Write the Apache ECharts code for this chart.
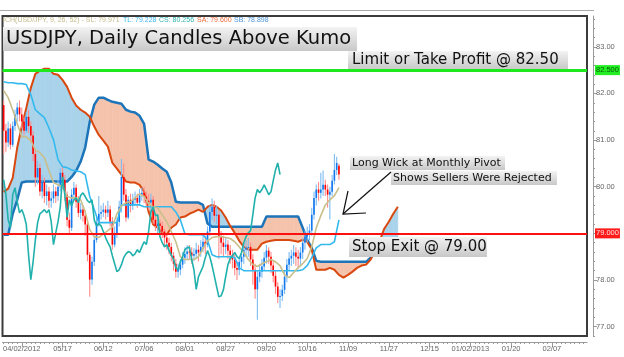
<!DOCTYPE html>
<html><head><meta charset="utf-8">
<script src="https://cdn.jsdelivr.net/npm/echarts@6/dist/echarts.min.js"></script>
<style>html,body{margin:0;padding:0;background:#fff}#c{width:624px;height:357px}</style>
</head><body><div id="c"></div>
<script>
// ---------- data ----------
const slotCount = 258;
const tickIdx = [8,26,44,62,80,98,116,134,152,170,188,206,224,242];
const tickLabels = ['04/02/2012','05/17','06/12','07/06','08/01','08/27','09/20','10/16','11/09','11/27','12/15','01/02/2013','01/20','02/07'];
const yTicks = [77,78,79,80,81,82,83];

const candleOpen = [81.75,81.20,80.95,81.25,80.90,81.30,81.55,81.70,81.55,81.40,
81.20,81.50,81.30,81.10,80.70,80.20,80.40,79.90,80.10,79.80,
79.90,79.70,79.75,79.90,79.80,80.00,80.30,80.15,79.83,79.29,
79.12,79.83,79.98,79.68,79.44,79.51,79.38,79.19,78.54,78.01,
78.39,78.86,79.23,79.42,79.46,79.51,79.44,79.51,79.25,78.76,
79.01,79.25,79.57,80.21,79.83,79.34,79.72,79.59,79.72,79.76,
79.66,79.81,79.87,79.79,79.70,79.66,79.72,79.29,79.16,79.21,
79.16,79.04,78.91,78.80,78.71,78.52,78.35,78.18,78.22,78.33,
78.48,78.56,78.61,78.59,78.52,78.56,78.65,78.59,78.71,78.82,
78.76,79.04,79.46,79.57,79.38,79.40,78.93,78.80,78.71,78.76,
78.63,78.54,78.44,78.26,78.22,78.39,78.50,78.65,78.69,78.71,
78.44,78.22,77.80,78.07,78.18,78.29,78.48,78.63,78.50,78.31,
78.09,77.86,77.64,77.66,77.79,78.07,78.33,78.46,78.52,78.59,
78.50,78.46,78.59,78.80,78.93,79.01,79.06,79.40,79.76,79.94,
79.87,79.94,80.04,79.94,79.83,79.89,80.13,80.36,80.45];
const candleClose = [81.20,80.95,81.25,80.90,81.30,81.55,81.70,81.55,81.40,81.20,
81.50,81.30,81.10,80.70,80.20,80.40,79.90,80.10,79.80,79.90,
79.70,79.75,79.90,79.80,80.00,80.30,80.15,79.83,79.29,79.12,
79.83,79.98,79.68,79.44,79.51,79.38,79.19,78.54,78.01,78.39,
78.86,79.23,79.42,79.46,79.51,79.44,79.51,79.25,78.76,79.01,
79.25,79.57,80.21,79.83,79.34,79.72,79.59,79.72,79.76,79.66,
79.81,79.87,79.79,79.70,79.66,79.72,79.29,79.16,79.21,79.16,
79.04,78.91,78.80,78.71,78.52,78.35,78.18,78.22,78.33,78.48,
78.56,78.61,78.59,78.52,78.56,78.65,78.59,78.71,78.82,78.76,
79.04,79.46,79.57,79.38,79.40,78.93,78.80,78.71,78.76,78.63,
78.54,78.44,78.26,78.22,78.39,78.50,78.65,78.69,78.71,78.44,
78.22,77.80,78.07,78.18,78.29,78.48,78.63,78.50,78.31,78.09,
77.86,77.64,77.66,77.79,78.07,78.33,78.46,78.52,78.59,78.50,
78.46,78.59,78.80,78.93,79.01,79.06,79.40,79.76,79.94,79.87,
79.94,80.04,79.94,79.83,79.89,80.13,80.36,80.51,80.26];
const candleLow = [80.70,80.75,80.85,80.80,80.85,81.20,81.40,81.40,81.25,81.10,
81.15,81.15,80.95,80.55,80.00,80.05,79.80,79.75,79.65,79.60,
79.55,79.55,79.65,79.65,79.70,79.90,79.95,79.70,79.15,78.98,
79.05,79.70,79.55,79.35,79.30,79.25,78.95,78.40,77.64,77.90,
78.30,78.80,79.15,79.30,79.35,79.30,79.35,79.15,78.65,78.70,
78.90,79.15,79.45,79.70,79.25,79.30,79.45,79.50,79.60,79.55,
79.60,79.70,79.65,79.55,79.50,79.45,79.20,79.05,79.00,79.00,
78.90,78.75,78.65,78.55,78.40,78.20,78.05,78.05,78.10,78.25,
78.35,78.45,78.45,78.35,78.40,78.45,78.40,78.50,78.60,78.55,
78.70,78.95,79.30,79.25,79.20,78.45,78.55,78.50,78.55,78.45,
78.35,78.25,78.10,78.00,78.10,78.25,78.35,78.50,78.50,78.30,
77.90,77.60,77.15,77.95,78.05,78.20,78.35,78.35,78.15,77.95,
77.70,77.50,77.40,77.55,77.70,77.95,78.20,78.30,78.35,78.30,
78.25,78.30,78.45,78.65,78.80,78.85,78.95,79.30,79.60,79.70,
79.75,79.80,79.80,79.55,79.30,79.80,80.05,80.25,80.15];
const candleHigh = [81.85,81.35,81.40,81.35,81.40,81.65,81.80,81.85,81.70,81.50,
81.60,81.65,81.40,81.20,80.80,80.55,80.50,80.25,80.20,80.05,
80.00,79.90,80.05,80.00,80.15,80.40,80.45,80.25,79.90,79.45,
79.95,80.10,80.05,79.80,79.65,79.60,79.50,79.30,78.60,78.50,
78.95,79.35,79.80,79.60,79.65,79.60,79.70,79.60,79.35,79.15,
79.35,79.70,80.60,80.50,79.95,79.80,79.85,79.85,79.90,79.85,
79.95,79.98,80.00,79.90,79.85,79.85,79.80,79.40,79.35,79.30,
79.25,79.10,79.00,78.90,78.80,78.60,78.45,78.35,78.45,78.60,
78.70,78.75,78.75,78.70,78.68,78.80,78.75,78.85,79.00,78.95,
79.15,79.60,79.75,79.70,79.60,79.50,79.05,78.95,78.90,78.85,
78.75,78.65,78.55,78.40,78.50,78.65,78.80,78.85,78.90,78.80,
78.55,78.35,78.20,78.35,78.45,78.60,78.75,78.70,78.60,78.40,
78.20,77.95,77.80,77.90,78.20,78.45,78.60,78.65,78.75,78.70,
78.65,78.70,78.90,79.05,79.15,79.20,79.55,79.90,80.05,80.10,
80.30,80.35,80.15,80.05,80.00,80.25,80.70,80.64,80.50];

// Ichimoku lines, one value every 2 bars (bar index 0,2,4,...)
const senkouA = [79.89,79.96,80.19,80.84,81.29,81.69,82.12,82.42,82.49,82.53,
82.53,82.42,82.40,82.29,82.14,81.91,81.74,81.65,81.59,81.50,
81.29,81.11,80.99,80.86,80.51,80.39,80.26,80.11,80.09,80.09,
80.04,79.89,79.46,79.19,79.12,79.01,78.97,79.12,79.19,79.34,
79.36,79.42,79.46,79.51,79.46,79.57,79.61,79.57,79.49,79.34,
79.16,79.01,78.84,78.71,78.65,78.65,78.65,78.78,78.82,78.84,
78.86,78.86,78.86,78.86,78.84,78.82,78.86,78.82,78.65,78.22,
78.22,78.22,78.26,78.22,78.11,78.05,78.11,78.18,78.26,78.31,
78.33,78.44,78.63,78.84,79.10,79.25,79.42,79.57];
const senkouB = [78.97,78.97,79.42,79.72,80.09,80.11,80.11,80.11,80.11,80.11,
80.11,80.11,80.11,80.11,80.11,80.21,80.34,80.54,80.84,81.39,
81.76,81.91,81.91,81.86,81.82,81.80,81.78,81.65,81.61,81.59,
81.52,81.35,80.58,80.54,80.47,80.39,80.32,80.09,79.68,79.66,
79.66,79.66,79.66,79.66,79.61,79.21,79.14,79.14,79.14,79.14,
79.14,79.14,79.14,79.14,79.14,79.14,79.14,79.14,79.36,79.36,
79.36,79.36,79.36,79.36,79.36,79.36,79.12,78.86,78.69,78.41,
78.39,78.39,78.39,78.39,78.39,78.39,78.39,78.39,78.39,78.39,
78.39,78.48,78.61,78.69,78.78,78.84,78.88,78.90];
const turningLine = [82.25,82.23,82.23,82.21,82.21,82.19,81.97,81.65,81.56,81.48,
81.26,81.01,80.58,80.43,80.41,80.36,80.34,80.32,80.26,79.79,
79.51,79.23,79.23,79.23,79.23,79.23,79.61,79.61,79.61,79.61,
79.61,79.57,79.57,79.57,79.57,79.57,79.57,79.57,79.46,79.29,
78.99,78.97,78.97,78.97,78.97,78.86,78.54,78.50,78.50,78.50,
78.50,78.48,78.26,78.20,78.20,78.20,78.20,78.20,78.20,78.20,
78.20,78.20,78.20,78.20,78.20,78.20,78.22,78.31,78.48,78.69,
78.76,78.76,78.76,78.82,79.29];
const standardLine = [82.06,81.91,81.65,81.35,81.07,81.07,80.99,80.79,80.73,80.62,
80.34,80.09,80.04,80.00,79.79,79.76,79.76,79.72,79.46,79.08,
78.93,78.91,78.99,79.06,79.14,79.42,79.59,79.66,79.68,79.76,
79.85,79.79,79.64,79.57,79.55,79.40,79.25,79.04,78.82,78.50,
78.44,78.44,78.44,78.50,78.67,78.84,78.91,78.93,78.93,78.91,
78.89,78.82,78.71,78.59,78.44,78.33,78.29,78.35,78.39,78.44,
78.39,78.31,78.11,78.05,78.16,78.26,78.35,78.46,78.71,79.12,
79.38,79.61,79.72,79.81,79.98];
const laggingShift = 26;
const takeProfit = 82.5, stopExit = 79.0, lastClose = 80.256, lastCloseTagAt = 80.46;

// ---------- build ----------
const categories = Array.from({length: slotCount}, (_, i) => String(i));
const every2 = arr => arr.map((v, n) => [n * 2, v]);
const candleData = candleOpen.map((o, i) => [i, o, candleClose[i], candleLow[i], candleHigh[i]]);
const cloudData = [];
for (let n = 0; n < senkouA.length - 1; n++) {
  cloudData.push([n * 2, senkouA[n], senkouB[n], n * 2 + 2, senkouA[n + 1], senkouB[n + 1]]);
}
const chikou = candleClose.slice(laggingShift).map((c, n) => [n, c]);
const yMinor = [];
for (let v = 768; v <= 836; v += 2) yMinor.push(v / 10);

const UPFILL = '#a9d3ea', DNFILL = '#f5c3ab';
function renderCloud(params, api) {
  const k1 = api.value(0), a1 = api.value(1), b1 = api.value(2);
  const k2 = api.value(3), a2 = api.value(4), b2 = api.value(5);
  const pa1 = api.coord([k1, a1]), pb1 = api.coord([k1, b1]);
  const pa2 = api.coord([k2, a2]), pb2 = api.coord([k2, b2]);
  const d1 = a1 - b1, d2 = a2 - b2;
  const mk = (pts, c) => ({type: 'polygon', shape: {points: pts}, style: {fill: c, stroke: c, lineWidth: 0.6}});
  const ch = [];
  if (d1 * d2 >= 0) {
    ch.push(mk([pa1, pa2, pb2, pb1], (d1 + d2) >= 0 ? UPFILL : DNFILL));
  } else {
    const t = d1 / (d1 - d2);
    const px = [pa1[0] + t * (pa2[0] - pa1[0]), pa1[1] + t * (pa2[1] - pa1[1])];
    ch.push(mk([pa1, px, pb1], d1 > 0 ? UPFILL : DNFILL));
    ch.push(mk([px, pa2, pb2], d2 > 0 ? UPFILL : DNFILL));
  }
  return {type: 'group', children: ch};
}
function renderCandle(params, api) {
  const i = api.value(0), o = api.value(1), c = api.value(2), l = api.value(3), h = api.value(4);
  const pO = api.coord([i, o]), pC = api.coord([i, c]), pL = api.coord([i, l]), pH = api.coord([i, h]);
  const up = c >= o;
  const bw = Math.max(1.5, api.size([1, 0])[0] * 0.72);
  const x = pO[0];
  return {type: 'group', children: [
    {type: 'line', shape: {x1: x, y1: pH[1], x2: x, y2: pL[1]}, style: {stroke: up ? '#7dbcf2' : '#ff8c8c', lineWidth: 1.1}},
    {type: 'rect', shape: {x: x - bw / 2, y: Math.min(pO[1], pC[1]), width: bw, height: Math.max(1, Math.abs(pO[1] - pC[1]))},
      style: {fill: up ? '#1479ee' : '#ff0000'}}
  ]};
}

const boxFill = {type: 'linear', x: 0, y: 0, x2: 0, y2: 1, colorStops: [{offset: 0, color: '#f3f3f3'}, {offset: 1, color: '#c8c8c8'}]};
function tagBox(x, y, w, h, text, size, tx) {
  return [
    {type: 'rect', shape: {x: x, y: y, width: w, height: h}, style: {fill: boxFill}, z: 100},
    {type: 'text', x: tx, y: y + h / 2, style: {text: text, fill: '#111', font: size + 'px "DejaVu Sans"', verticalAlign: 'middle'}, z: 101}
  ];
}
const hdrFont = '7px "Liberation Sans"';
const graphics = [
  {type: 'line', shape: {x1: 0, y1: 10.5, x2: 594, y2: 10.5}, style: {stroke: '#aaa', lineWidth: 1}, z: 100},
  {type: 'text', x: 3, y: 20, style: {text: 'ICH(USD/JPY, 9, 26, 52) - SL: 79.971', fill: '#c4bb8c', font: hdrFont, verticalAlign: 'middle'}, z: 101},
  {type: 'text', x: 123, y: 20, style: {text: 'TL: 79.228', fill: '#3cb7ee', font: hdrFont, verticalAlign: 'middle'}, z: 101},
  {type: 'text', x: 159, y: 20, style: {text: 'CS: 80.256', fill: '#2db4b0', font: hdrFont, verticalAlign: 'middle'}, z: 101},
  {type: 'text', x: 197, y: 20, style: {text: 'SA: 79.600', fill: '#ee6a3a', font: hdrFont, verticalAlign: 'middle'}, z: 101},
  {type: 'text', x: 234, y: 20, style: {text: 'SB: 78.898', fill: '#4b93d6', font: hdrFont, verticalAlign: 'middle'}, z: 101},
  ...tagBox(3, 27, 354, 24, 'USDJPY, Daily Candles Above Kumo', 19.5, 6),
  ...tagBox(348, 51, 220, 18, 'Limit or Take Profit @ 82.50', 15, 352),
  ...tagBox(350, 156, 155, 14, 'Long Wick at Monthly Pivot', 11, 352),
  ...tagBox(391, 171, 166, 14, 'Shows Sellers Were Rejected', 11, 393),
  ...tagBox(349, 237, 138, 20, 'Stop Exit @ 79.00', 15, 352),
  {type: 'polyline', shape: {points: [[391, 172], [343, 214]]}, style: {stroke: '#111', lineWidth: 1.2, fill: null}, z: 102},
  {type: 'polyline', shape: {points: [[348, 191], [343, 214], [366, 213]]}, style: {stroke: '#111', lineWidth: 1.2, fill: null}, z: 102}
];

const axisGray = '#9a9a9a';
const lblFont = {fontSize: 7.5, color: '#666', fontFamily: 'Liberation Sans'};
const option = {
  animation: false,
  backgroundColor: '#fff',
  grid: {left: 0, right: 37, top: 16, bottom: 21, show: true, borderColor: '#3c3c3c', borderWidth: 2, backgroundColor: 'transparent'},
  xAxis: [
    {type: 'category', data: categories, boundaryGap: true, position: 'bottom', offset: 6,
      axisLine: {show: true, lineStyle: {color: axisGray}},
      axisTick: {show: true, alignWithLabel: true, length: 5, lineStyle: {color: axisGray}, interval: (i) => tickIdx.indexOf(i) >= 0},
      axisLabel: Object.assign({interval: (i) => tickIdx.indexOf(i) >= 0, margin: 3,
        formatter: (v, i) => { const n = tickIdx.indexOf(i); return n >= 0 ? tickLabels[n] : ''; }}, lblFont),
      splitLine: {show: false}},
    {type: 'category', data: categories, boundaryGap: true, position: 'bottom', offset: 6,
      axisLine: {show: false},
      axisTick: {show: true, alignWithLabel: true, length: 2, lineStyle: {color: axisGray}, interval: (i) => i % 2 === 0},
      axisLabel: {show: false}, splitLine: {show: false}}
  ],
  yAxis: [
    {type: 'value', position: 'right', min: 76.8, max: 83.66, offset: 6, scale: true,
      axisLine: {show: true, lineStyle: {color: axisGray}},
      axisTick: {show: true, length: 4, lineStyle: {color: axisGray}, customValues: yTicks},
      axisLabel: Object.assign({customValues: yTicks, margin: 3, formatter: (v) => Number(v).toFixed(2)}, lblFont),
      splitLine: {show: false}},
    {type: 'value', position: 'right', min: 76.8, max: 83.66, offset: 6, scale: true,
      axisLine: {show: false},
      axisTick: {show: true, length: 2, lineStyle: {color: axisGray}, customValues: yMinor},
      axisLabel: {show: false}, splitLine: {show: false}}
  ],
  series: [
    {type: 'custom', name: 'Kumo', renderItem: renderCloud, data: cloudData, z: 1,
      encode: {x: [0, 3], y: [1, 2, 4, 5]}, silent: true},
    {type: 'line', name: 'SB', data: every2(senkouB), symbol: 'none', z: 2,
      lineStyle: {color: '#1c74b9', width: 2.5}},
    {type: 'line', name: 'SA', data: every2(senkouA), symbol: 'none', z: 2,
      lineStyle: {color: '#d9480f', width: 2}},
    {type: 'custom', name: 'USDJPY', renderItem: renderCandle, data: candleData, z: 3,
      encode: {x: 0, y: [1, 2, 3, 4]}, silent: true},
    {type: 'line', name: 'TL', data: every2(turningLine), symbol: 'none', z: 4,
      lineStyle: {color: '#34b9ee', width: 1.6}},
    {type: 'line', name: 'SL', data: every2(standardLine), symbol: 'none', z: 4,
      lineStyle: {color: '#c9bf8b', width: 1.6}},
    {type: 'line', name: 'CS', data: chikou, symbol: 'none', z: 4,
      lineStyle: {color: '#21b1ac', width: 1.6}},
    {type: 'line', name: 'levels', data: [], z: 6, silent: true,
      markLine: {symbol: ['none', 'none'], silent: true, animation: false,
        data: [
          {yAxis: takeProfit, lineStyle: {color: '#1ee81e', width: 3, type: 'solid'},
            label: {show: true, position: 'end', distance: 8, formatter: '82.500', backgroundColor: '#22ee22', color: '#0b5a0b', fontSize: 7.5, fontFamily: 'Liberation Sans', padding: [1, 1]}},
          {yAxis: stopExit, lineStyle: {color: '#ff1010', width: 2, type: 'solid'},
            label: {show: true, position: 'end', distance: 8, formatter: '79.000', backgroundColor: '#ff1a1a', color: '#ffe0e0', fontSize: 7.5, fontFamily: 'Liberation Sans', padding: [1, 1]}},
          {yAxis: lastCloseTagAt, lineStyle: {opacity: 0},
            label: {show: true, position: 'end', distance: 8, formatter: lastClose.toFixed(3), backgroundColor: '#6cbcf8', color: '#123a66', fontSize: 7.5, fontFamily: 'Liberation Sans', padding: [1, 1]}}
        ]}}
  ],
  graphic: graphics
};
const chart = echarts.init(document.getElementById('c'), null, {renderer: 'canvas'});
chart.setOption(option);
</script>
</body></html>
